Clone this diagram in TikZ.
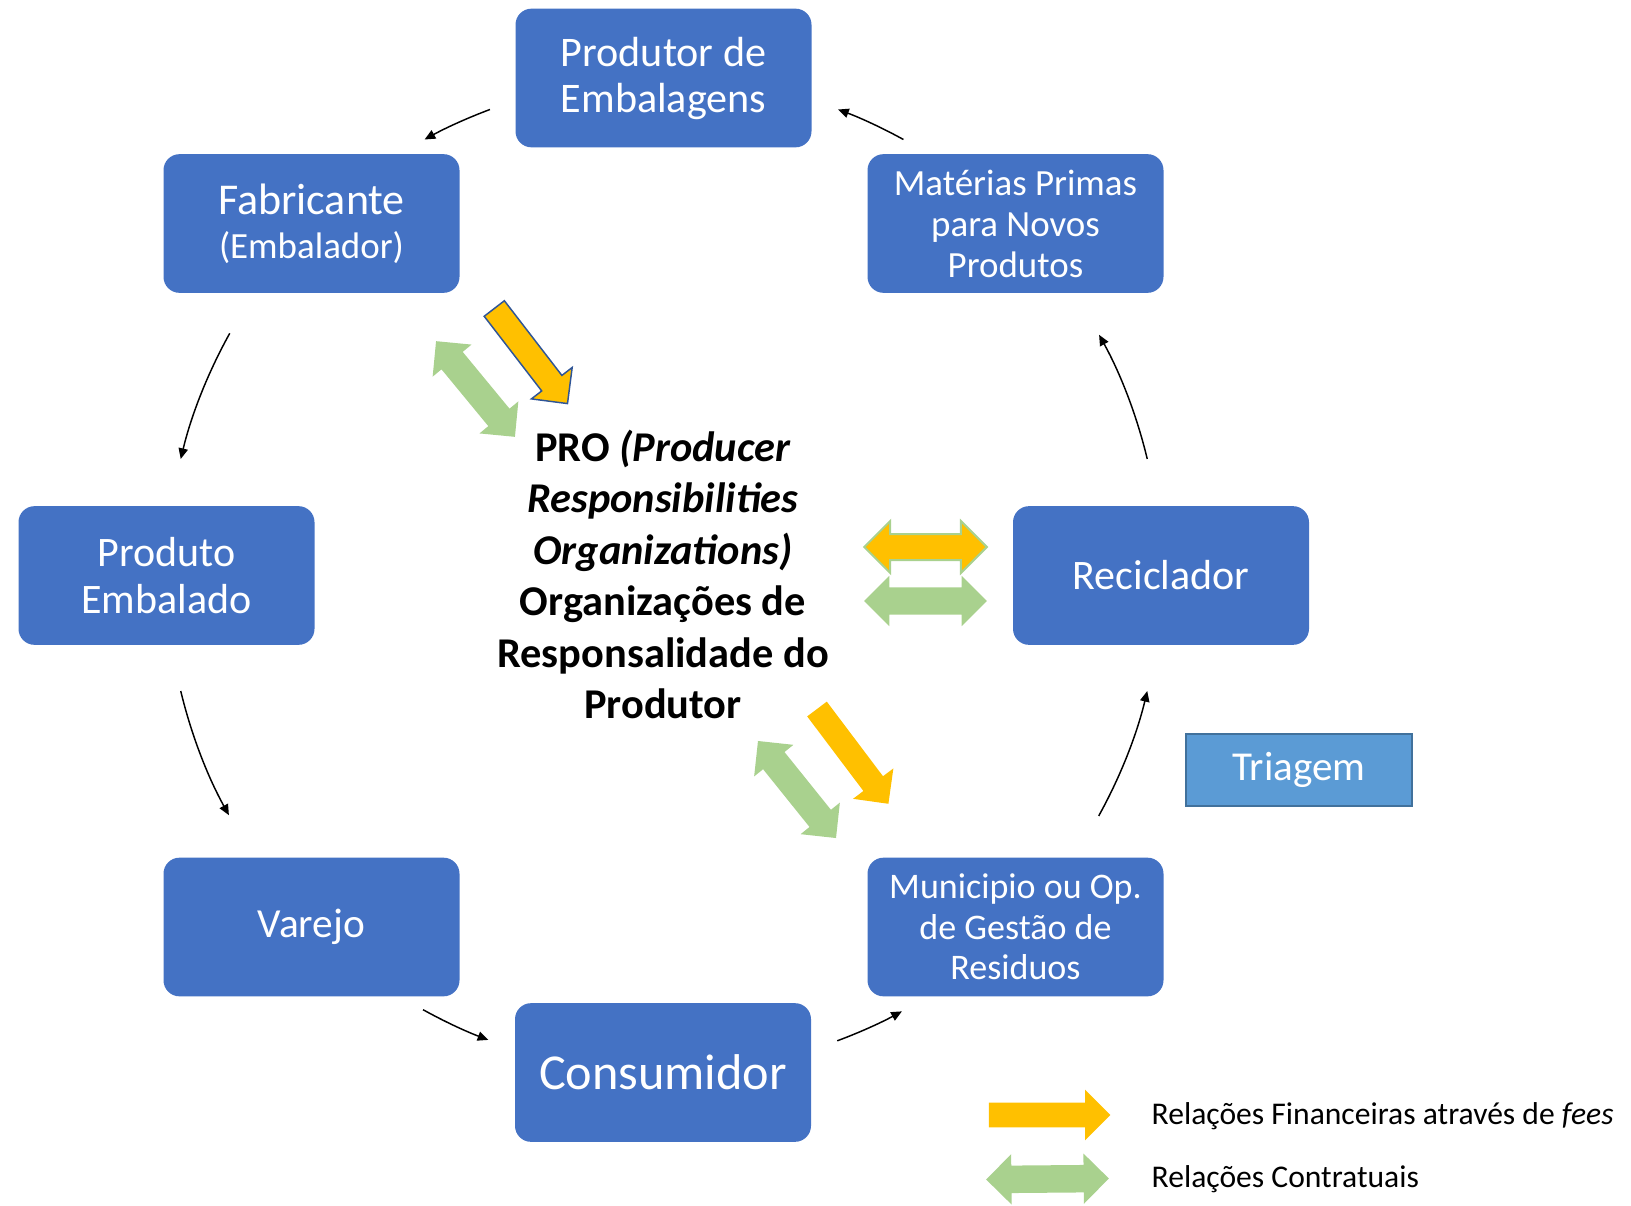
\documentclass[tikz,border=0pt]{standalone}
\usepackage{fontspec}
\setmainfont{Carlito}
\usetikzlibrary{arrows.meta,shapes.arrows,calc}

\definecolor{boxblue}{RGB}{68,114,196}
\definecolor{triblue}{RGB}{91,155,213}
\definecolor{triedge}{RGB}{65,113,156}
\definecolor{feeorange}{RGB}{255,192,0}
\definecolor{pactgreen}{RGB}{169,209,142}
\definecolor{darkedge}{RGB}{47,85,151}

\tikzset{
  actor/.style={rectangle, rounded corners=12pt, fill=boxblue, text=white, align=center,
    minimum width=222pt, minimum height=104pt, inner sep=0pt},
  flow/.style={line width=1.1pt, -{Triangle[length=8pt,width=7pt]}},
  fee/.style={single arrow, fill=feeorange, inner xsep=0pt, inner ysep=9pt,
    single arrow head extend=9.75pt},
  pact/.style={double arrow, fill=pactgreen, inner xsep=0pt, inner ysep=10.1pt,
    double arrow head extend=8.6pt},
}

\begin{document}
\begin{tikzpicture}[x=0.75pt,y=0.75pt,yscale=-1,xscale=1]
\useasboundingbox (0,0) rectangle (1631,1206);

%Rounded Rect
\node[actor, font=\fontsize{31.6}{34.5}\selectfont] (prod) at (663.5,78) {Produtor de\\Embalagens};
\node[actor, font=\fontsize{33}{33}\selectfont] (fab) at (311.5,223.5) {Fabricante\\{\fontsize{27.7}{33}\selectfont (Embalador)}};
\node[actor, font=\fontsize{27.7}{30.75}\selectfont] (mat) at (1015.5,223.5) {Matérias Primas\\para Novos\\Produtos};
\node[actor, font=\fontsize{31.5}{35}\selectfont] (emb) at (166.5,575.5) {Produto\\Embalado};
\node[actor, font=\fontsize{31.5}{35}\selectfont] (rec) at (1161,575.5) {Reciclador};
\node[actor, font=\fontsize{31}{35}\selectfont] (var) at (311.5,927) {Varejo};
\node[actor, font=\fontsize{37.7}{40}\selectfont] (cons) at (663,1072.5) {Consumidor};
\node[actor, font=\fontsize{27}{30.4}\selectfont] (mun) at (1015.5,927) {Municipio ou Op.\\de Gestão de\\Residuos};
%Rect
\node[rectangle, fill=triblue, draw=triedge, line width=1.5pt, text=white,
  minimum width=169.5pt, minimum height=54pt, font=\fontsize{30.8}{34}\selectfont] (tri) at (1299,770) {Triagem};

% Text Node
\node[align=center, font=\fontsize{31.8}{38.6}\selectfont\bfseries] (pro) at (663,574.5)
  {PRO \textit{(Producer}\\\textit{Responsibilities}\\\textit{Organizations)}\\Organizações de\\Responsalidade do\\Produtor};

%Curved Arrows
\coordinate (hub) at (664,575);
\foreach \a/\b [count=\i] in {110.5/118.8, 150.9/166.5, 193.5/208.9, 241/249.3,
    290.4/298.6, 331/346.5, 13.5/28.9, 61.2/69.5} {
  \coordinate (s\i) at ($(hub)+(-\a:497)$);
  \draw[flow] (s\i) arc[start angle=-\a, end angle=-\b, radius=497] coordinate (e\i);
}

%Block Arrows
\node[fee, draw=darkedge, line width=1.1pt, minimum height=90pt, rotate=-52.4] (feeA) at (527,351) {};
\node[pact, minimum height=93pt, rotate=-50.5] (pactA) at (475.5,389) {};
\node[fee, minimum height=89pt, rotate=-53] (feeB) at (849,751.5) {};
\node[pact, minimum height=93.4pt, rotate=-51.2] (pactB) at (797,789.5) {};
\node[pact, inner ysep=9pt, double arrow head extend=9.75pt, fill=feeorange, draw=pactgreen,
  line width=1.5pt, minimum height=92pt] (feeC) at (925.5,547) {};
\node[pact, minimum height=92pt] (pactC) at (925.5,601) {};

% Legend
\node[fee, minimum height=91pt] (feeKey) at (1043.5,1115) {};
\node[pact, minimum height=92pt, rotate=0.5] (pactKey) at (1047.5,1179) {};
\node[anchor=west, font=\fontsize{23.7}{28}\selectfont] (feeText) at (1147,1116) {Relações Financeiras através de \textit{fees}};
\node[anchor=west, font=\fontsize{23.7}{28}\selectfont] (pactText) at (1147,1179) {Relações Contratuais};

\end{tikzpicture}
\end{document}
